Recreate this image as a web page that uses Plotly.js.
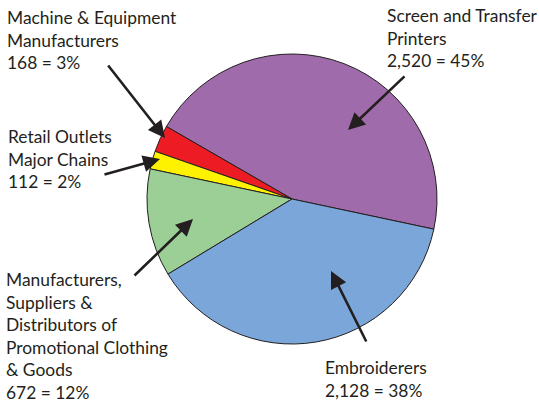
<!DOCTYPE html>
<html>
<head>
<meta charset="utf-8">
<script src="https://cdn.plot.ly/plotly-3.0.1.min.js"></script>
<style>html,body{margin:0;padding:0;background:#fff;}#chart{width:539px;height:411px;}</style>
</head>
<body>
<div id="chart"></div>
<script>
// Data
const categories = [
  "Screen and Transfer Printers",
  "Machine & Equipment Manufacturers",
  "Retail Outlets Major Chains",
  "Manufacturers, Suppliers & Distributors of Promotional Clothing & Goods",
  "Embroiderers"
];
const values = [2520, 168, 112, 672, 2128];
const percents = [45, 3, 2, 12, 38];
const colors = ["#a06bab", "#ed1c24", "#fff200", "#9ccf96", "#7aa6d9"];
const labelTexts = [
  "Screen and Transfer<br>Printers<br>2,520 = 45%",
  "Machine & Equipment<br>Manufacturers<br>168 = 3%",
  "Retail Outlets<br>Major Chains<br>112 = 2%",
  "Manufacturers,<br>Suppliers &<br>Distributors of<br>Promotional Clothing<br>& Goods<br>672 = 12%",
  "Embroiderers<br>2,128 = 38%"
];

const W = 539, H = 411;
const px = x => x / W;
const py = y => 1 - y / H;

// label text positions (top-left, pixels) and arrows (tail -> head, pixels)
const labelPos = [[385, 3], [5, 5], [6, 124], [4, 267], [323, 355]];
const arrows = [
  [[406, 75], [348, 130]],
  [[107, 64], [165, 138]],
  [[103, 175], [160, 159]],
  [[133, 277], [193, 219]],
  [[367, 343], [331, 271]]
];

const font = {family: "Lato, 'Noto Sans', sans-serif", size: 17.4, color: "#231f20"};

const annotations = [];
labelTexts.forEach((t, i) => {
  annotations.push({
    xref: "paper", yref: "paper",
    x: px(labelPos[i][0]), y: py(labelPos[i][1]),
    xanchor: "left", yanchor: "top", align: "left",
    text: t, showarrow: false, font: font
  });
  const [tail, head] = arrows[i];
  annotations.push({
    xref: "paper", yref: "paper",
    x: px(head[0]), y: py(head[1]),
    ax: tail[0] - head[0], ay: tail[1] - head[1],
    text: "", showarrow: true,
    arrowhead: 2, arrowsize: 1.3, arrowwidth: 2.6, arrowcolor: "#231f20"
  });
});

const trace = {
  type: "pie",
  labels: categories,
  values: values,
  sort: false,
  direction: "counterclockwise",
  rotation: -60,
  textinfo: "none",
  hoverinfo: "label+value+percent",
  marker: {colors: colors, line: {color: "#231f20", width: 1}},
  domain: {x: [px(147), px(437)], y: [py(344), py(54)]},
  showlegend: false
};

Plotly.newPlot("chart", [trace], {
  width: W, height: H,
  margin: {l: 0, r: 0, t: 0, b: 0},
  paper_bgcolor: "#ffffff",
  showlegend: false,
  annotations: annotations
}, {displayModeBar: false, staticPlot: true});
</script>
</body>
</html>
